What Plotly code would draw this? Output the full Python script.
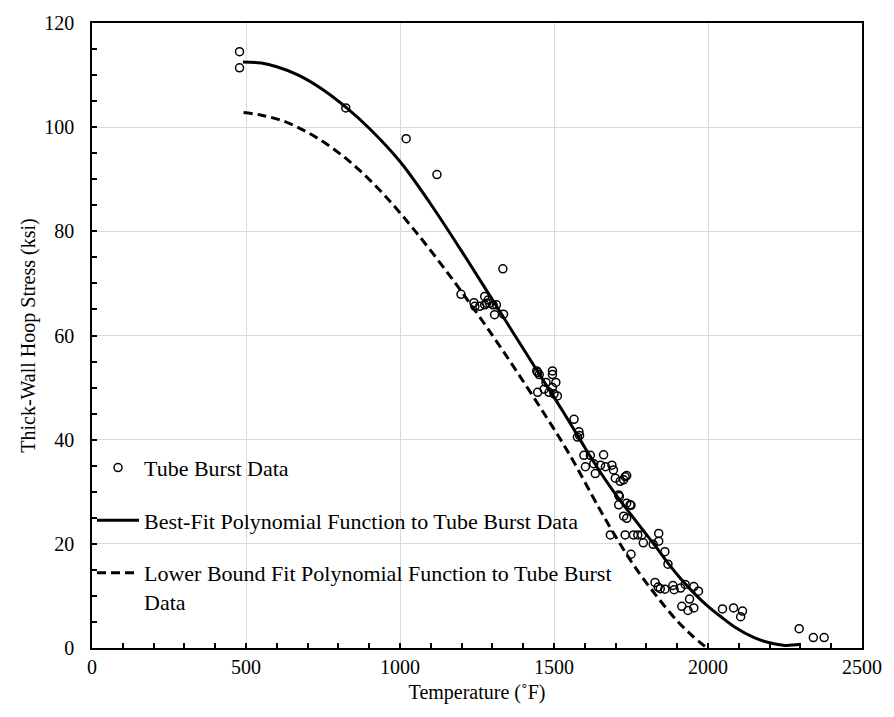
import plotly.graph_objects as go

# Tube burst data (Temperature °F, Hoop stress ksi)
burst_T = [479, 479, 824, 1020, 1120, 1334, 1198,
           1240, 1243, 1259, 1275, 1281, 1291, 1302, 1313, 1307, 1336, 1275, 1286,
           1444, 1447, 1452, 1495, 1495, 1474, 1506, 1447, 1468, 1484, 1495, 1511, 1500, 1565,
           1581, 1583, 1576, 1597, 1602, 1618, 1661, 1629, 1634, 1651, 1667, 1688, 1693, 1699,
           1715, 1731, 1736, 1726, 1710, 1712, 1710, 1736, 1747, 1750,
           1726, 1736, 1683, 1731, 1758, 1772, 1790, 1822, 1840, 1840, 1860, 1870, 1750, 1785,
           1828, 1838, 1845, 1860, 1886, 1890, 1911, 1926, 1954, 1969, 1940, 1915, 1935, 1954,
           2047, 2083, 2112, 2106, 2296, 2342, 2377]
burst_S = [114.5, 111.4, 103.7, 97.8, 90.9, 72.8, 67.9,
           66.3, 65.6, 65.6, 67.5, 66.2, 66.2, 65.9, 65.9, 64.0, 64.1, 65.9, 66.8,
           53.2, 52.9, 52.5, 53.2, 52.5, 51.0, 51.0, 49.1, 49.7, 49.1, 50.0, 48.4, 48.8, 43.9,
           41.5, 40.8, 40.5, 37.0, 34.8, 37.0, 37.1, 35.4, 33.5, 35.1, 34.8, 35.1, 34.2, 32.6,
           32.0, 32.9, 33.1, 32.3, 29.4, 29.1, 27.5, 27.8, 27.5, 27.4,
           25.3, 24.9, 21.7, 21.7, 21.7, 21.7, 20.2, 19.9, 22.0, 20.5, 18.5, 16.1, 18.0, 21.7,
           12.6, 11.7, 11.4, 11.3, 12.0, 11.2, 11.5, 12.2, 11.8, 10.9, 9.4, 8.0, 7.2, 7.7,
           7.5, 7.7, 7.1, 6.0, 3.7, 2.0, 2.0]

# Best-fit polynomial curve
best_T = [490, 550, 600, 670, 750, 825, 900, 1000, 1100, 1200, 1290, 1370, 1450, 1506,
          1550, 1600, 1650, 1700, 1750, 1830, 1870, 1913, 1960, 2000, 2042, 2085, 2150, 2200, 2250, 2300]
best_S = [112.5, 112.3, 111.6, 110.0, 107.2, 103.8, 99.8, 93.4, 85.2, 76.2, 67.8, 60.3, 52.8, 47.6,
          43.4, 38.5, 33.8, 29.5, 25.6, 19.5, 16.3, 13.2, 10.2, 8.0, 6.0, 4.1, 2.0, 1.0, 0.5, 0.7]

# Lower-bound polynomial curve
low_T = [492, 550, 620, 700, 780, 860, 950, 1050, 1150, 1200, 1290, 1380, 1480,
         1550, 1645, 1700, 1760, 1830, 1900, 1950, 1990]
low_S = [102.8, 102.3, 101.2, 99.0, 96.0, 92.2, 86.9, 80.0, 72.4, 68.4, 60.9, 53.0, 43.9,
         37.2, 27.0, 21.4, 15.8, 10.2, 5.2, 2.3, 0.3]

serif = "Liberation Serif, Times New Roman, serif"

fig = go.Figure()
fig.add_trace(go.Scatter(
    x=burst_T, y=burst_S, mode="markers", name="Tube Burst Data",
    marker=dict(symbol="circle-open", size=8, color="black", line=dict(width=1.5, color="black")),
    legendgroup="a"))
fig.add_trace(go.Scatter(
    x=best_T, y=best_S, mode="lines", name="Best-Fit Polynomial Function to Tube Burst Data",
    line=dict(color="black", width=3, shape="spline"), legendgroup="b"))
fig.add_trace(go.Scatter(
    x=low_T, y=low_S, mode="lines",
    name="Lower Bound Fit Polynomial Function to Tube Burst<br>Data",
    line=dict(color="black", width=3, dash="9px,5px", shape="spline"), legendgroup="c"))

axis_common = dict(
    showline=True, linecolor="black", linewidth=1.5, mirror=True,
    showgrid=True, gridcolor="#d9d9d9", gridwidth=1,
    ticks="inside", ticklen=5, tickcolor="black", tickwidth=1.5,
    tickfont=dict(family=serif, size=20, color="black"),
    zeroline=False,
)

fig.update_layout(
    width=894, height=717,
    margin=dict(l=92, r=25, t=17, b=69),
    paper_bgcolor="white", plot_bgcolor="white",
    font=dict(family=serif, size=20, color="black"),
    xaxis=dict(range=[0, 2500], dtick=500, tick0=0,
               title=dict(text="Temperature (˚F)", font=dict(family=serif, size=20, color="black"), standoff=8),
               minor=dict(ticks="inside", dtick=100, ticklen=5, tickcolor="black", tickwidth=1.5, showgrid=False),
               **axis_common),
    yaxis=dict(range=[0, 120], dtick=20, tick0=0, ticklabelstandoff=12,
               title=dict(text="Thick-Wall Hoop Stress (ksi)", font=dict(family=serif, size=20, color="black"), standoff=3),
               minor=dict(ticks="inside", dtick=5, ticklen=5, tickcolor="black", tickwidth=1.5, showgrid=False),
               **axis_common),
    legend=dict(x=0.0, y=0.322, xanchor="left", yanchor="top",
                bgcolor="rgba(0,0,0,0)", borderwidth=0, valign="top",
                traceorder="grouped", tracegroupgap=21,
                font=dict(family=serif, size=22, color="black"), itemwidth=42),
    showlegend=True,
)

fig.write_html("out.html")
